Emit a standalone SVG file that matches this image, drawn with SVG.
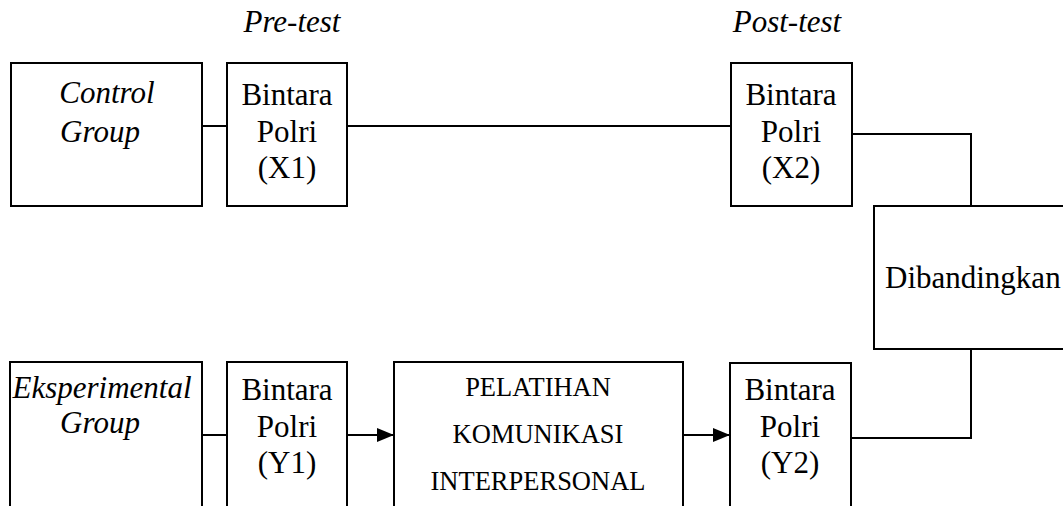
<svg xmlns="http://www.w3.org/2000/svg" width="1063" height="506" viewBox="0 0 1063 506">
<style>
.box{fill:#fff;stroke:#000;stroke-width:2}
.t{font-family:'Liberation Serif',Tinos,'Times New Roman',Times,'DejaVu Serif',serif;font-size:31px;fill:#000;text-anchor:middle}
.i{font-style:italic}
.s{font-size:26.5px}
.c{fill:none;stroke:#000;stroke-width:2}
</style>
<defs>
<marker id="ah" markerUnits="userSpaceOnUse" markerWidth="18" markerHeight="16" refX="17" refY="7" orient="auto">
<path d="M0,0 L17,7 L0,14 Z" fill="#000"/>
</marker>
</defs>
<g id="labels">
<text class="t i" x="292" y="32">Pre-test</text>
<text class="t i" x="787" y="32">Post-test</text>
</g>
<g id="control-group">
<rect class="box" x="11" y="63" width="191" height="143"/>
<text class="t i" x="107" y="103">Control</text>
<text class="t i" x="100" y="142">Group</text>
</g>
<g id="x1">
<rect class="box" x="227" y="63" width="120" height="143"/>
<text class="t" x="287" y="105">Bintara</text>
<text class="t" x="287" y="142">Polri</text>
<text class="t" x="287" y="178">(X1)</text>
</g>
<g id="x2">
<rect class="box" x="731" y="63" width="121" height="143"/>
<text class="t" x="791" y="105">Bintara</text>
<text class="t" x="791" y="142">Polri</text>
<text class="t" x="791" y="178">(X2)</text>
</g>
<g id="dibandingkan">
<rect class="box" x="874" y="206" width="200" height="143"/>
<text class="t" x="885" y="288" style="text-anchor:start">Dibandingkan</text>
</g>
<g id="eksperimental-group">
<rect class="box" x="10" y="362" width="192" height="160"/>
<text class="t i" x="102" y="398">Eksperimental</text>
<text class="t i" x="100" y="433">Group</text>
</g>
<g id="y1">
<rect class="box" x="227" y="362" width="120" height="160"/>
<text class="t" x="287" y="400">Bintara</text>
<text class="t" x="287" y="437">Polri</text>
<text class="t" x="287" y="473">(Y1)</text>
</g>
<g id="pelatihan">
<rect class="box" x="394" y="362" width="289" height="160"/>
<text class="t s" x="538" y="396">PELATIHAN</text>
<text class="t s" x="538" y="443">KOMUNIKASI</text>
<text class="t s" x="538" y="490">INTERPERSONAL</text>
</g>
<g id="y2">
<rect class="box" x="730" y="363" width="121" height="160"/>
<text class="t" x="790" y="400">Bintara</text>
<text class="t" x="790" y="437">Polri</text>
<text class="t" x="790" y="473">(Y2)</text>
</g>
<g id="connectors">
<line class="c" x1="202" y1="126" x2="227" y2="126"/>
<line class="c" x1="347" y1="126" x2="731" y2="126"/>
<polyline class="c" points="852,134 971,134 971,206"/>
<line class="c" x1="202" y1="435" x2="227" y2="435"/>
<line class="c" x1="347" y1="435" x2="394" y2="435" marker-end="url(#ah)"/>
<line class="c" x1="683" y1="435" x2="730" y2="435" marker-end="url(#ah)"/>
<polyline class="c" points="851,438 971,438 971,349"/>
</g>
</svg>
